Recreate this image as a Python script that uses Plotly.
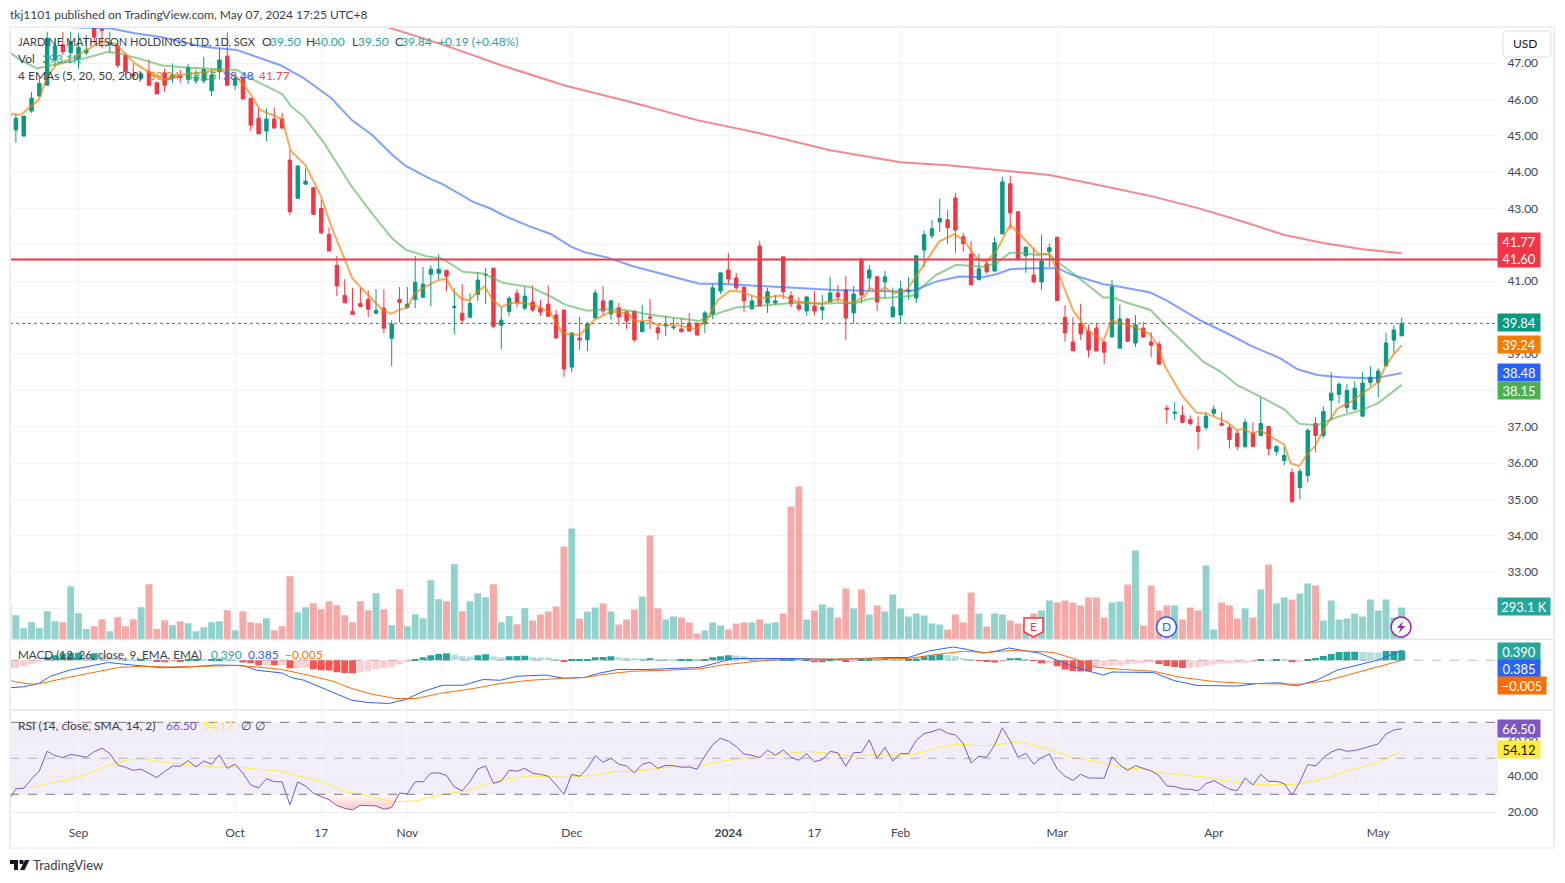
import numpy as np
import plotly.graph_objects as go

# Candles (bar 0 = far left, clipped)
opens = [45.2,45.16,44.99,45.68,46.09,46.39,47.08,47.5,47.28,47.13,47.28,47.95,47.93,47.5,47.47,47.2,46.7,46.58,46.76,46.46,
         46.73,46.58,46.64,46.55,46.51,46.51,46.24,46.76,47.19,46.39,46.58,46.03,45.48,45.13,45.46,45.46,44.33,43.28,43.67,43.57,
         43.0,42.29,41.44,40.61,40.17,40.39,40.5,40.12,40.26,39.43,40.5,40.28,40.5,40.56,41.19,41.22,41.3,40.28,40.12,40.01,
         40.64,41.17,41.36,39.79,40.17,40.67,40.26,40.43,40.26,40.37,40.07,40.21,38.64,39.44,39.39,39.99,40.46,40.1,40.27,40.16,
         40.18,39.61,40.02,39.72,39.77,39.72,39.69,39.85,39.85,39.83,40.1,40.73,41.31,41.09,40.84,40.24,41.97,40.4,40.4,41.67,
         40.6,40.35,40.18,40.32,40.21,40.43,40.68,40.76,40.13,41.61,41.09,41.12,40.98,40.02,40.07,40.71,40.54,41.86,42.25,42.63,
         42.69,43.29,42.22,41.75,41.04,41.48,41.28,42.3,43.68,42.91,41.7,41.17,40.98,41.81,42.21,40.01,39.33,39.84,39.63,39.71,
         39.33,39.47,39.16,39.96,39.3,39.71,39.33,39.27,37.51,37.37,37.31,37.2,37.01,36.98,37.37,37.09,36.98,36.82,36.46,36.82,
         36.76,37.01,36.32,36.07,35.74,35.33,35.66,37.09,36.76,37.73,37.89,37.53,37.48,37.29,38.22,38.22,38.67,39.38,39.5]
highs = [45.2,45.61,45.54,46.21,46.6,47.86,47.68,47.86,47.86,47.82,47.77,47.95,47.93,47.86,47.54,47.27,46.99,46.76,47.1,46.46,
         46.85,46.99,46.81,46.97,46.81,47.17,46.85,47.4,47.84,46.64,46.58,46.03,45.75,45.75,45.78,45.63,44.59,44.17,44.1,43.6,
         43.25,42.48,41.69,41.06,40.82,40.82,40.75,40.78,40.78,39.93,40.84,40.84,41.69,41.39,41.44,41.74,41.3,40.81,40.92,40.67,
         41.25,41.36,41.36,40.28,40.59,40.78,40.86,40.89,40.48,40.89,40.21,40.21,39.58,40.02,39.88,40.76,40.87,40.49,40.4,40.18,
         40.18,40.35,40.51,39.83,40.05,39.99,39.99,40.13,39.85,40.18,40.93,41.23,41.78,41.23,40.84,40.6,42.11,40.82,40.62,41.67,
         40.73,40.57,40.57,40.73,40.62,41.12,40.9,41.15,40.87,41.61,41.45,41.15,41.28,40.82,41.01,41.12,41.7,42.39,42.69,43.27,
         42.96,43.43,42.33,42.11,41.75,41.59,42.22,43.87,43.9,42.91,41.94,41.92,42.28,42.03,42.21,40.34,40.01,40.38,39.8,39.84,
         39.33,41.04,40.35,39.99,40.07,39.88,39.6,39.35,37.59,37.67,37.59,37.31,37.29,37.4,37.59,37.4,37.07,36.9,37.23,37.12,
         37.8,37.01,36.49,36.46,35.85,35.85,36.96,37.26,37.56,38.5,38.22,38.17,38.25,38.5,38.67,38.61,39.58,39.8,40.0]
lows = [44.7,44.81,44.99,45.63,46.09,46.39,46.9,47.22,47.17,46.85,47.22,47.54,47.4,47.27,46.87,46.67,46.53,46.53,46.39,46.15,
        46.21,46.44,46.46,46.42,46.42,46.44,46.09,46.55,46.39,46.26,46.01,45.13,45.05,44.85,45.21,45.21,42.82,43.28,43.67,42.82,
        42.29,41.83,40.59,40.39,40.09,40.28,40.02,40.09,39.57,38.66,39.87,40.25,40.26,40.56,40.31,41.06,40.72,39.54,39.84,40.01,
        40.45,40.37,39.71,39.13,40.04,40.28,40.2,40.15,40.04,40.04,39.44,38.37,38.5,39.11,39.08,39.99,40.07,39.94,39.8,39.69,
        39.33,39.61,39.69,39.39,39.5,39.66,39.61,39.63,39.52,39.58,39.96,40.65,40.93,40.76,40.16,40.24,40.32,40.13,40.35,40.51,
        40.29,40.18,40.05,40.07,39.94,40.43,40.43,39.39,39.83,40.4,40.76,40.18,40.54,40.02,39.85,40.49,40.4,41.39,42.17,42.36,
        42.03,41.78,41.81,40.9,41.04,41.2,41.26,42.3,42.44,41.56,41.23,40.98,40.76,41.39,40.47,39.34,39.09,39.38,38.91,39.08,
        38.72,39.47,39.16,39.35,39.19,39.44,38.91,38.72,37.09,37.18,37.09,37.04,36.38,36.9,37.29,37.04,36.4,36.35,36.4,36.46,
        36.76,36.21,36.21,35.94,34.92,35.0,35.47,36.29,36.68,37.18,37.65,37.37,37.45,37.29,38.11,37.81,38.67,39.02,39.5]
closes = [44.7,45.48,45.54,46.03,46.44,47.68,47.47,47.31,47.59,47.43,47.36,47.71,47.9,47.55,46.94,46.76,46.65,46.7,46.39,46.15,
          46.39,46.67,46.6,46.88,46.61,46.83,46.67,47.08,46.39,46.58,46.01,45.29,45.05,45.46,45.21,45.21,42.91,44.17,43.75,42.84,
          42.33,41.83,40.87,40.41,40.09,40.31,40.23,40.2,39.71,39.82,40.42,40.37,40.97,40.92,41.33,41.33,41.14,40.31,39.93,40.39,
          41.03,41.19,39.76,39.93,40.53,40.42,40.59,40.21,40.15,40.04,39.44,38.59,39.58,39.39,39.83,40.68,40.18,40.46,40.02,39.91,
          39.39,39.88,39.99,39.58,39.8,39.74,39.61,39.63,39.52,40.13,40.82,41.23,41.06,40.82,40.46,40.46,40.32,40.71,40.46,40.71,
          40.38,40.24,40.57,40.18,40.29,40.68,40.57,39.99,40.65,40.62,41.31,40.43,41.12,40.29,40.79,40.76,41.7,42.28,42.44,42.72,
          42.47,42.41,42.03,40.9,41.34,41.26,42.06,43.73,42.88,41.61,41.94,40.98,41.56,41.92,40.47,39.58,39.09,39.55,39.11,39.08,
          39.05,40.84,39.96,39.35,39.8,39.47,39.24,38.72,37.48,37.4,37.12,37.09,36.87,37.29,37.48,37.04,36.65,36.46,37.12,36.46,
          37.09,36.4,36.46,36.21,34.94,35.77,36.9,36.76,37.42,37.92,38.17,38.0,38.06,38.2,38.36,38.53,39.3,39.66,39.84]

# Volume in thousands
volume = [314,223,104,159,104,259,168,159,488,241,95,122,186,76,204,122,186,296,506,95,
          177,131,168,149,76,113,159,168,268,85,259,159,149,195,85,122,580,250,296,332,
          278,351,314,223,159,351,268,424,278,131,461,122,232,195,543,369,351,689,259,351,
          424,387,506,159,214,140,287,174,229,256,302,851,1016,192,256,293,329,256,137,183,
          275,393,952,284,183,210,201,156,55,82,156,128,92,146,156,156,183,146,156,238,
          1217,1400,183,265,320,293,201,467,284,458,229,311,256,412,284,210,238,220,146,137,
          92,229,156,430,238,119,238,229,174,146,137,238,265,357,339,357,339,311,384,384,
          201,339,348,503,814,128,494,265,311,311,183,293,265,677,92,339,311,192,284,201,
          458,686,329,384,366,421,512,494,174,357,183,192,238,210,366,265,366,201,293.1]

# EMA lines, read at the bars where the curve bends
ema5_x = [0.3,1.6,3.9,5,6.1,8.5,11.9,13.7,16.2,18,19.7,21.9,24.9,27,29.2,30.9,32.2,35,36.1,38,40,41.3,44,46,47.9,48.9,49.8,51,51.9,52.9,54.9,56,
          56.8,57.9,58.9,60,60.9,61.9,63,64.2,66,67.9,69.3,70.8,73,74.9,77,79.2,80.1,81.8,82.9,85.7,87.9,89.2,90.7,92.2,93.5,96,98.7,100.8,103.8,106,
          107.7,109.4,110.1,111.2,112,113.1,114.8,116.4,118.9,120.9,122.2,123.9,125,126.3,128,129.7,131.5,133,134,136,137.8,139.9,140.9,144,145.7,146.7,147.8,149.9,
          151.8,153.1,155.7,157,157.8,158.9,160,161.7,163,163.8,164.9,166,166.9,168.1,169.8,171.5,173,175,175.9,176.9,178]
ema5 = [45.6,45.57,45.98,46.62,46.94,47.17,47.59,47.54,46.99,46.76,46.53,46.67,46.76,46.81,46.62,46.17,45.71,45.46,44.59,44.19,43.32,42.5,41.07,40.61,40.2,40.11,40.2,40.28,40.66,40.8,41.03,41.07,
        40.75,40.52,40.48,40.71,40.86,40.48,40.29,40.4,40.4,40.29,40.12,39.57,39.52,39.94,40.17,40.12,39.89,39.92,39.8,39.78,39.68,39.94,40.49,40.74,40.72,40.53,40.61,40.44,40.38,40.51,
        40.39,40.58,40.81,40.72,40.83,40.67,40.76,41.27,42.09,42.3,42.09,41.59,41.54,41.86,42.55,42.18,41.77,41.74,41.31,40.21,39.66,39.36,39.93,39.73,39.57,39.29,38.65,37.87,
        37.39,37.36,37.13,36.9,36.95,36.81,36.9,36.67,36.51,36.0,35.92,36.26,36.46,36.95,37.5,37.68,37.91,38.23,38.65,38.97,39.24]
ema20_x = [0.3,1.6,3.7,6.7,9.8,12.8,14.5,17.1,19.7,23.1,25.7,29.2,31.8,35,36.1,37.8,40.4,43.9,46.5,49.1,50.8,53.4,55.5,58.1,60.7,63.3,66.7,69.3,71.2,74,76.2,78.8,
           82.2,85.7,88.3,90,93,96.9,100.4,103.8,106.9,108.1,109.9,113.3,115.5,118.5,121.1,124.6,126.3,128,129.7,131.5,133,134,136,139.9,141.1,142.9,145.9,147.6,150.2,152.7,
           154.9,157,160,163,164.9,167.2,169.8,172.8,175,178]
ema20 = [47.28,47.08,46.85,46.99,47.13,47.31,47.25,47.1,46.93,46.87,46.84,46.81,46.49,46.15,45.82,45.52,44.79,43.6,42.86,42.17,41.87,41.69,41.62,41.26,41.21,40.95,40.84,40.58,40.35,40.19,40.23,40.21,
         40.07,39.98,39.91,40.07,40.28,40.34,40.41,40.38,40.41,40.39,40.51,40.56,40.6,41.17,41.45,41.4,41.5,41.79,41.77,41.72,41.74,41.54,41.22,40.55,40.55,40.41,40.21,39.84,39.29,38.78,
         38.51,38.14,37.82,37.48,37.08,37.04,37.27,37.45,37.65,38.15]
ema50_x = [3,8.25,13.2,16.2,19.7,24.9,29.2,31.8,34.8,37.8,41.3,43.9,46.5,49.1,50.8,53.8,55.5,59.4,61.6,63.7,66.7,69.3,71.9,73.6,76.6,79.7,84,88.3,90.9,94.3,96.9,101.2,
           105.6,109.9,114.2,115.9,118.5,121.5,124.6,126.3,128,130.6,134,136,139.9,142,145.9,148,152.3,155.7,158.7,162.5,164.7,167.2,170.2,173.7,175,178]
ema50 = [48.2,47.98,47.95,47.82,47.71,47.45,47.36,47.16,46.94,46.58,46.03,45.43,45.02,44.47,44.17,43.83,43.67,43.18,43.0,42.77,42.5,42.3,41.95,41.8,41.65,41.42,41.17,40.93,40.93,40.89,40.85,40.8,
         40.76,40.74,40.72,40.76,40.99,41.13,41.11,41.2,41.33,41.36,41.36,41.17,40.92,40.85,40.69,40.47,39.92,39.57,39.23,38.88,38.58,38.42,38.36,38.33,38.35,38.48]
ema200_x = [40,48,56,63,71,80,88,96,105,114,120,127,133,140,146,152,158,163,168,173,178]
ema200 = [48.6,48.02,47.47,46.94,46.39,45.9,45.43,45.07,44.6,44.27,44.19,44.05,43.92,43.61,43.34,43.01,42.62,42.27,42.05,41.88,41.77]

# MACD
macd_hist = [-0.36,-0.31,-0.24,-0.16,-0.08,0.12,0.2,0.27,0.29,0.3,0.2,0.28,0.23,0.13,0.1,0.05,0.03,0.04,0.03,-0.06,
             -0.08,-0.05,-0.06,0.03,0.03,0.02,0.03,0.05,0.03,0.01,-0.09,-0.12,-0.2,-0.19,-0.2,-0.19,-0.32,-0.31,-0.3,-0.36,
             -0.4,-0.41,-0.48,-0.51,-0.52,-0.48,-0.44,-0.36,-0.32,-0.28,-0.16,-0.07,0.04,0.12,0.2,0.25,0.28,0.23,0.16,0.15,
             0.2,0.24,0.15,0.12,0.16,0.17,0.18,0.12,0.11,0.1,0.05,-0.06,0.02,0.03,0.05,0.12,0.13,0.16,0.12,0.11,
             0.08,0.07,0.08,0.04,0.03,0.02,0.03,0.03,0.02,0.04,0.12,0.16,0.2,0.19,0.16,0.07,0.04,0.03,0.02,0.02,
             0.02,0.01,0.02,-0.08,-0.08,0.03,0.02,-0.07,-0.05,0.03,0.04,0.03,0.08,0.03,0.02,0.03,0.07,0.16,0.2,0.24,
             0.2,0.16,0.08,0.02,-0.03,-0.07,-0.09,-0.05,0.08,0.09,0.02,-0.03,-0.12,-0.11,-0.24,-0.37,-0.43,-0.44,-0.45,-0.29,
             -0.24,-0.21,-0.19,-0.16,-0.13,-0.12,-0.09,-0.15,-0.23,-0.27,-0.31,-0.3,-0.28,-0.23,-0.17,-0.13,-0.12,-0.11,-0.1,-0.08,
             0.03,0.01,0.03,0.02,-0.08,-0.05,0.05,0.09,0.17,0.25,0.33,0.34,0.34,0.33,0.32,0.31,0.37,0.37,0.39]
macd_x = [0.3,2,3.9,5.4,7.8,10.2,12.8,16.2,19.7,23.1,26.6,30,31.8,35,36.1,37.8,40.4,43.9,46,48.6,50.8,52.9,55.5,58.1,60.7,62.9,65,66.7,68.6,71,73.6,75.3,
          77.9,81.4,84.8,88.3,90.9,92.6,96.9,100.4,105.6,109.9,112.5,115,117.6,120.7,122.4,124.6,126.3,127.8,129.7,131.8,133.9,136,138.2,139.9,141,146.3,148.9,151.9,157,159.6,
          162.5,163.8,164.9,167.2,169.8,175,178]
macd_line = [-1.1,-1.06,-0.93,-0.64,-0.4,-0.24,-0.09,-0.2,-0.3,-0.27,-0.19,-0.21,-0.4,-0.51,-0.69,-0.8,-1.13,-1.6,-1.69,-1.73,-1.57,-1.26,-1.0,-1.0,-0.77,-0.8,-0.64,-0.63,-0.59,-0.72,-0.69,-0.53,
             -0.37,-0.37,-0.33,-0.29,-0.07,0.07,0.07,0.07,0.03,0.09,0.11,0.11,0.37,0.53,0.44,0.29,0.37,0.49,0.4,0.28,0.01,-0.25,-0.45,-0.59,-0.47,-0.49,-0.81,-1.01,-1.03,-0.93,
             -0.9,-1.0,-1.0,-0.79,-0.39,0.01,0.385]
signal_x = [0.3,1.6,3.3,4.6,7.6,11,14.1,17.1,20.6,24.9,29.2,31.8,34.8,37.8,41.3,43.9,46.5,49.5,52.1,55.1,59.4,62.9,66.7,71,73.6,76.2,79.7,84,88.3,90.9,94.3,96.9,
            101.2,105.6,109.9,115,118.5,122,125,128,131.8,133.5,136,139,142,146.3,149.7,154,158.3,161.7,165.1,168.5,172.8,178]
signal_line = [-0.82,-0.9,-0.96,-0.9,-0.69,-0.47,-0.29,-0.24,-0.27,-0.24,-0.21,-0.27,-0.36,-0.56,-0.82,-1.13,-1.36,-1.53,-1.53,-1.33,-1.13,-0.93,-0.8,-0.72,-0.69,-0.56,-0.44,-0.4,-0.35,-0.2,-0.07,0,
               0.04,0.05,0.05,0.07,0.23,0.36,0.31,0.39,0.35,0.31,0.08,-0.28,-0.36,-0.44,-0.68,-0.85,-0.93,-0.94,-0.96,-0.81,-0.45,-0.005]

# RSI
rsi = [25.9,33,33.3,38.5,43,53.9,51.5,50.4,52.2,51.5,50.6,53.7,55.6,52.6,46.3,45,43.3,44,41.7,39.3,
       42.6,45.7,45.6,48.7,45.2,48.5,46.7,51.9,44.4,46.7,41.7,35.2,33.5,38.7,37,36.9,24.1,36.9,34.6,30.7,
       28.7,27,23.7,22.2,21.3,23.9,23.7,23.5,21.7,22.6,30.6,30.2,37,36.9,41.7,41.9,40.4,34.1,31.9,37,
       44.1,45.7,36.1,37.4,43.3,42.8,44.4,41.7,41.1,40,35.2,30,41.1,40,44.4,51.5,47.8,50,46.7,45.7,
       41.9,46.7,47.8,44.4,46.1,45.9,45,45.2,43.9,51.3,57.6,61.1,59.6,56.5,52.4,51.7,50.4,54.6,51.7,54.6,
       50.6,48.9,52.6,48.1,49.3,53.9,53,45.6,53.1,53.3,60.2,50,56.1,48.5,52.6,52.6,60,63.7,64.8,66.3,
       63.9,63,58.3,47.4,51.1,50.6,57.4,67,59.6,50.6,52.8,46.7,50.4,52.4,44.1,40,37.8,41.1,39.1,39.1,
       38.9,50.9,46.3,43.3,45.9,44.4,43,40.4,34.6,34.3,33,32.8,31.9,35.9,37.6,35.2,32.8,32,39.1,35.2,
       41.1,37.2,37.2,35.9,29.6,37,46.5,45.7,50.4,53.5,55.2,53.9,54.3,55.4,56.7,58,63.5,65.7,66.5]
rsi_ma_x = [0.3,3,5,7.6,10.2,12.8,15.4,17.5,19.7,23.1,26.6,29.2,31.8,34.4,37,40,43.4,46,49,52.1,55.1,58.5,61.1,63.7,66.7,71,74.5,77.5,80.5,84,86.1,88.7,
            91.7,94.3,97.8,102.1,105.6,107.7,110.3,115.5,118.5,121.1,124.1,126.3,128.4,130.6,133.9,136,138.6,140.8,142.9,145,147.6,150.2,153.1,156.6,160.8,164.7,168.1,170.7,174.5,176.2,178]
rsi_ma = [33.9,33.7,35.9,38,41.1,46.3,49.1,49.6,47.8,46.7,45.2,45.2,43.9,43.1,40.4,37,31.1,29.3,25.9,26.3,29.6,31.9,35.6,38.5,40.2,39.4,40.4,42.6,43,44.8,45.9,46.1,
          48.7,50.4,51.9,53.9,52.4,51.3,51.9,51.9,55.6,58,57,57.4,59.1,57.8,53.7,50.4,48.5,46.3,44.4,44.1,41.7,40.7,39.4,36.7,35.2,35.6,38.5,42.6,47.2,50.4,54.12]

# Time axis
time_ticks = [9, 29, 40, 51, 72, 92, 103, 114, 134, 154, 175]
time_labels = ["Sep", "Oct", "17", "Nov", "Dec", "<b>2024</b>", "17", "Feb", "Mar", "Apr", "May"]
price_ticks = [47, 46, 45, 44, 43, 42, 41, 40, 39, 38, 37, 36, 35, 34, 33, 32]
# these three price labels sit fully behind the coloured tags
hidden_price_ticks = [42, 38, 32]
rsi_ticks = [60, 40, 20]

assert len(opens) == len(highs) == len(lows) == len(closes) == len(volume) == len(macd_hist) == len(rsi)

# Plotly's page keeps the browser's 8px body margin, so pixels are shifted by that
W, H = 1549, 867


def X(px):
    return (px - 8) / W


def Y(py):
    return 1 - (py - 8) / H


FONT = "Lato"
UP, DOWN = "#089981", "#F23645"
bars = list(range(len(closes)))

vol_colors = ["rgba(38,166,154,0.5)" if c >= o else "rgba(239,83,80,0.5)" for o, c in zip(opens, closes)]
hist_colors = []
for i, v in enumerate(macd_hist):
    prev = macd_hist[i - 1] if i else v
    if v >= 0:
        hist_colors.append("#26A69A" if v >= prev else "#B2DFDB")
    else:
        hist_colors.append("#FF5252" if v <= prev else "#FFCDD2")

fig = go.Figure()
fig.add_bar(x=bars, y=volume, marker_color=vol_colors, marker_line_width=0, yaxis="y")
fig.add_candlestick(x=bars, open=opens, high=highs, low=lows, close=closes, yaxis="y2",
                    increasing=dict(line=dict(color=UP, width=1), fillcolor=UP),
                    decreasing=dict(line=dict(color=DOWN, width=1), fillcolor=DOWN))
for xs, ys, color in [(ema200_x, ema200, "rgba(242,54,69,0.6)"), (ema50_x, ema50, "rgba(41,98,255,0.6)"),
                      (ema20_x, ema20, "rgba(76,175,80,0.6)"), (ema5_x, ema5, "rgba(245,124,0,0.65)")]:
    fig.add_scatter(x=xs, y=ys, mode="lines", line=dict(color=color, width=2), yaxis="y2")

fig.add_bar(x=bars, y=macd_hist, marker_color=hist_colors, marker_line_width=0, yaxis="y3")
fig.add_scatter(x=macd_x, y=macd_line, mode="lines", line=dict(color="#2962FF", width=1), yaxis="y3")
fig.add_scatter(x=signal_x, y=signal_line, mode="lines", line=dict(color="#FF6D00", width=1), yaxis="y3")

# oversold shading under the 30 line
low_bars = bars[39:51]
fig.add_scatter(x=low_bars, y=[30] * len(low_bars), mode="lines", line=dict(width=0), yaxis="y4")
fig.add_scatter(x=low_bars, y=np.minimum(rsi[39:51], 30), mode="lines", line=dict(width=0), yaxis="y4", fill="tonexty",
                fillgradient=dict(type="vertical", start=30, stop=20,
                                  colorscale=[[0, "rgba(255,82,82,0.03)"], [1, "rgba(255,82,82,0.38)"]]))
fig.add_scatter(x=rsi_ma_x, y=rsi_ma, mode="lines", line=dict(color="#FFEB3B", width=1), yaxis="y4")
fig.add_scatter(x=bars, y=rsi, mode="lines", line=dict(color="#7E57C2", width=1), yaxis="y4")

grid = "#F2F3F7"
tick_font = dict(family=FONT, size=12, color="#42454F")
main_dom = [Y(639.5), Y(27)]
price_text = ["" if t in hidden_price_ticks else f"{t:.2f}" for t in price_ticks]
fig.update_layout(
    width=W, height=H, margin=dict(l=0, r=0, t=0, b=0), paper_bgcolor="white", plot_bgcolor="white",
    showlegend=False, hovermode=False, bargap=0.12, boxgap=0.38, font=dict(family=FONT),
    xaxis=dict(domain=[X(10), X(1498)], range=[0.25, 190.3], anchor="y4", tickmode="array", tickvals=time_ticks,
               ticktext=time_labels, showgrid=True, gridcolor=grid, zeroline=False, tickfont=tick_font,
               ticks="outside", ticklen=2, tickcolor="rgba(0,0,0,0)", showline=False, rangeslider=dict(visible=False)),
    yaxis=dict(domain=main_dom, range=[0, 5606], visible=False, fixedrange=True),
    yaxis2=dict(domain=main_dom, range=[31.15, 47.99], overlaying="y", side="right", anchor="x", tickmode="array",
                tickvals=price_ticks, ticktext=price_text, gridcolor=grid, showgrid=True,
                zeroline=False, tickfont=tick_font, ticks="outside", ticklen=6, tickcolor="rgba(0,0,0,0)"),
    yaxis3=dict(domain=[Y(710), Y(640)], range=[-1.99, 0.81], visible=False, anchor="x"),
    yaxis4=dict(domain=[Y(820), Y(711)], range=[15.7, 76.3], side="right", anchor="x", tickmode="array",
                tickvals=rsi_ticks, ticktext=[f"{t:.2f}" for t in rsi_ticks], gridcolor="#ECECF2", showgrid=True,
                zeroline=False, tickfont=tick_font, ticks="outside", ticklen=6, tickcolor="rgba(0,0,0,0)"),
)

# RSI band and reference lines
fig.add_shape(type="rect", xref="paper", yref="y4", x0=X(10), x1=X(1498), y0=30, y1=70,
              fillcolor="rgba(126,87,194,0.1)", line_width=0, layer="below")
for level, col in [(70, "#787B86"), (50, "rgba(120,123,134,0.5)"), (30, "#787B86")]:
    fig.add_shape(type="line", xref="paper", yref="y4", x0=X(10), x1=X(1498), y0=level, y1=level,
                  line=dict(color=col, width=1, dash="dash"))
fig.add_shape(type="line", xref="paper", yref="y3", x0=X(10), x1=X(1498), y0=0, y1=0,
              line=dict(color="rgba(120,123,134,0.5)", width=1, dash="dash"))
fig.add_shape(type="line", xref="paper", yref="y2", x0=X(10), x1=X(1498), y0=closes[-1], y1=closes[-1],
              line=dict(color=UP, width=1, dash="dot"))
fig.add_shape(type="line", xref="paper", yref="y2", x0=X(10), x1=X(1498), y0=41.6, y1=41.6,
              line=dict(color=DOWN, width=2))

# Frame and pane separators
fig.add_shape(type="rect", xref="paper", yref="paper", x0=X(10), x1=X(1554), y0=Y(848), y1=Y(27),
              line=dict(color="#EEEFF5", width=2))
for py in (639.5, 710):
    fig.add_shape(type="line", xref="paper", yref="paper", x0=X(10), x1=X(1554), y0=Y(py), y1=Y(py),
                  line=dict(color="#E3E4EC", width=1.5))


def poly(points, **kw):
    path = "M " + " L ".join(f"{X(a)},{Y(b)}" for a, b in points) + " Z"
    fig.add_shape(type="path", xref="paper", yref="paper", path=path, **kw)


def circle(cx, cy, r, **kw):
    fig.add_shape(type="circle", xref="paper", yref="paper", x0=X(cx - r), x1=X(cx + r), y0=Y(cy + r), y1=Y(cy - r), **kw)


def txt(px, py, text, color="#3A3D47", size=12, **kw):
    anchor = kw.pop("anchor", "left")
    shift = -2 if anchor == "left" else 0
    fig.add_annotation(xref="paper", yref="paper", x=X(px + shift), y=Y(py - 0.7), text=text, showarrow=False, xanchor=anchor,
                       yanchor="middle", font=dict(family=FONT, size=size, color=color), **kw)


def tag(py, text, bg, width=42, color="white"):
    fig.add_annotation(xref="paper", yref="paper", x=X(1497), y=Y(py - 0.5), text=text, showarrow=False, xanchor="left",
                       yanchor="middle", width=width, height=17, align="center", bgcolor=bg, borderpad=0,
                       font=dict(family=FONT, size=13, color=color))


# Event badges over the volume bars
poly([(1024, 618), (1043, 618), (1043, 632), (1033.5, 637), (1024, 632)], fillcolor="white", line=dict(color=DOWN, width=1.5))
txt(1033.5, 627, "E", color=DOWN, size=12, anchor="center")
circle(1166.5, 627, 10, fillcolor="white", line=dict(color="#2962FF", width=1.5))
txt(1166.5, 627, "D", color="#2962FF", size=12, anchor="center")
circle(1401, 627, 10, fillcolor="white", line=dict(color="#9C27B0", width=1.5))
poly([(1403, 621), (1397, 628), (1400.5, 628), (1399, 633), (1405, 626), (1401.5, 626)], fillcolor="#9C27B0", line_width=0)

# USD button
poly([(1505, 31), (1549, 31), (1551, 33), (1551, 55), (1549, 57), (1505, 57), (1503, 55), (1503, 33)],
     fillcolor="white", line=dict(color="#E9EAF1", width=1.5))
txt(1513, 44.5, "USD", color="#131722")

# Price tags on the right
tag(242, "41.77", DOWN)
tag(259, "41.60", DOWN)
tag(323, "39.84", UP)
tag(345, "39.24", "#F57C00")
tag(373, "38.48", "#2962FF")
tag(391, "38.15", "#4CAF50")
tag(607, "293.1 K", "#26A69A", width=52)
tag(652, "0.390", "#26A69A")
tag(669, "0.385", "#2962FF")
tag(686, "−0.005", "#FF6D00", width=48)
tag(729, "66.50", "#7E57C2")
tag(750, "54.12", "#FFEB3B", color="#131722")

# Header, legends, footer
txt(10, 15, "tkj1101 published on TradingView.com, May 07, 2024 17:25 UTC+8")
txt(18, 42, "JARDINE MATHESON HOLDINGS LTD, 1D, SGX", size=11)
teal = "#26A69A"
for px, s, c in [(262, "O", "#3A3D47"), (270, "39.50", teal), (306, "H", "#3A3D47"), (314, "40.00", teal),
                 (351.5, "L", "#3A3D47"), (358, "39.50", teal), (394.5, "C", "#3A3D47"), (401, "39.84", teal),
                 (438.5, "+0.19 (+0.48%)", teal)]:
    txt(px, 42, s, color=c)
txt(18, 59, "Vol")
txt(42, 59, "293.1K", color=teal)
txt(18, 76, "4 EMAs (5, 20, 50, 200)")
for px, s, c in [(149, "39.24", "#F57C00"), (186, "38.15", "#4CAF50"), (223, "38.48", "#2962FF"), (259, "41.77", "#F2485A")]:
    txt(px, 76, s, color=c)
txt(18, 655, "MACD (12, 26, close, 9, EMA, EMA)", size=11.7)
for px, s, c in [(211, "0.390", teal), (248, "0.385", "#2962FF"), (285, "−0.005", "#FF6D00")]:
    txt(px, 655, s, color=c)
txt(18, 726, "RSI (14, close, SMA, 14, 2)")
for px, s, c in [(166, "66.50", "#7E57C2"), (203, "54.12", "#FFEB3B"), (241, "∅", "#3A3D47"), (255, "∅", "#3A3D47")]:
    txt(px, 726, s, color=c)

poly([(10, 860), (18, 860), (18, 870), (14, 870), (14, 864), (10, 864)], fillcolor="#131722", line_width=0)
circle(21.5, 862, 2.3, fillcolor="#131722", line_width=0)
poly([(25, 860), (29.5, 860), (24.5, 870), (20, 870)], fillcolor="#131722", line_width=0)
txt(33, 866, "TradingView", color="#3A3D47", size=13)

fig.write_html("out.html")
